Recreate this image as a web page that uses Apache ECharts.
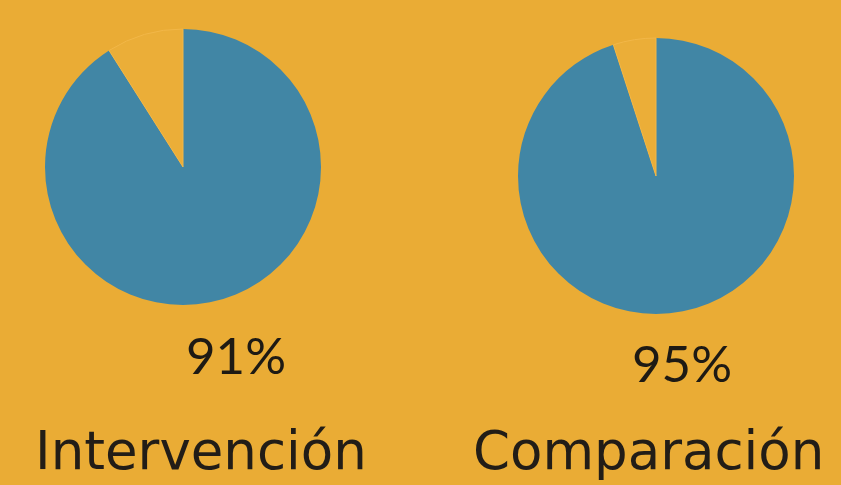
<!DOCTYPE html>
<html>
<head>
<meta charset="utf-8">
<script src="https://cdn.jsdelivr.net/npm/echarts@6/dist/echarts.min.js"></script>
<style>
html,body{margin:0;padding:0;background:#EAAC35;}
#c{width:841px;height:485px;}
</style>
</head>
<body>
<div id="c"></div>
<script>
var groups = ['Intervención', 'Comparación'];
var percents = [91, 95];
var chart = echarts.init(document.getElementById('c'));
var centers = [[183, 167], [656, 176]];
var pctPos = [[236, 358], [682, 366]];
var labPos = [[35, 455], [473, 455]];
var series = [], graphics = [];
percents.forEach(function (p, i) {
  series.push({
    type: 'pie',
    center: centers[i],
    radius: 138,
    startAngle: 90,
    clockwise: true,
    silent: true,
    label: {show: false},
    labelLine: {show: false},
    emphasis: {disabled: true},
    data: [
      {value: p, name: groups[i], itemStyle: {color: '#4186A5', borderWidth: 0}},
      {value: 100 - p, name: 'resto', itemStyle: {color: '#EBAE38', borderColor: '#F2B748', borderWidth: 1}}
    ]
  });
  graphics.push({
    type: 'text', x: pctPos[i][0], y: pctPos[i][1],
    style: {text: p + '%', font: '400 51px Lato, sans-serif', fill: '#1e1a14', textAlign: 'center', textVerticalAlign: 'middle'}
  });
  graphics.push({
    type: 'text', x: labPos[i][0], y: labPos[i][1],
    style: {text: groups[i], font: '400 53px "DejaVu Sans", sans-serif', fill: '#221d17', textAlign: 'left', textVerticalAlign: 'middle'}
  });
});
chart.setOption({
  backgroundColor: '#EAAC35',
  animation: false,
  series: series,
  graphic: graphics
});
</script>
</body>
</html>
